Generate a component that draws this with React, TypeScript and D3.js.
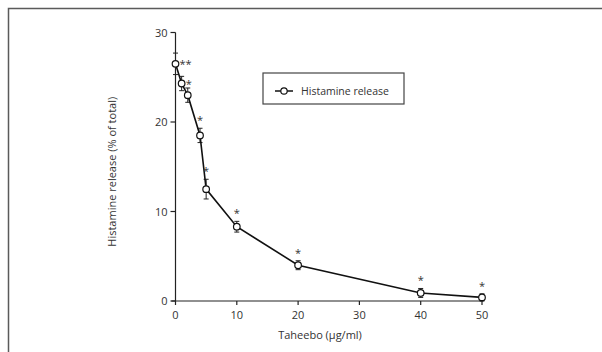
import React from "react";
import * as d3 from "d3";

const doses = [0, 1, 2, 4, 5, 10, 20, 40, 50];
const release = [26.5, 24.3, 23.0, 18.5, 12.5, 8.3, 4.0, 0.9, 0.4];
const errors = [1.2, 0.8, 0.8, 0.8, 1.1, 0.6, 0.5, 0.5, 0.4];
const stars = ["**", "*", "", "*", "*", "*", "*", "*", "*"];
const xTicks = [0, 10, 20, 30, 40, 50];
const yTicks = [0, 10, 20, 30];

export default function App() {
  const x = d3.scaleLinear().domain([0, 50]).range([175.5, 482]);
  const y = d3.scaleLinear().domain([0, 30]).range([301, 32.5]);
  const line = d3
    .line<number>()
    .x((_, i) => x(doses[i]))
    .y((d) => y(d));
  const font = "'Open Sans', 'DejaVu Sans', sans-serif";
  const tc = "#333";
  return (
    <svg
      width={602}
      height={352}
      style={{ position: "absolute", left: 0, top: 0, background: "#fff" }}
      fontFamily={font}
    >
      <rect x={8.5} y={8.5} width={600} height={350} fill="none" stroke="#5a5a5a" strokeWidth={1.5} />
      {/* axes */}
      <line x1={x(0)} x2={x(0)} y1={y(30)} y2={y(0)} stroke="#222" strokeWidth={1.2} />
      <line x1={x(0) - 4} x2={x(50) + 1} y1={y(0)} y2={y(0)} stroke="#222" strokeWidth={1.2} />
      {yTicks.map((t) => (
        <g key={"y" + t}>
          <line x1={x(0) - 5} x2={x(0)} y1={y(t)} y2={y(t)} stroke="#222" strokeWidth={1.2} />
          <text x={x(0) - 8} y={y(t) + 4} textAnchor="end" fontSize={11} fill={tc}>
            {t}
          </text>
        </g>
      ))}
      {xTicks.map((t) => (
        <g key={"x" + t}>
          <line x1={x(t)} x2={x(t)} y1={y(0)} y2={y(0) + 4} stroke="#222" strokeWidth={1.2} />
          <text x={x(t)} y={y(0) + 18} textAnchor="middle" fontSize={11} fill={tc}>
            {t}
          </text>
        </g>
      ))}
      <text
        transform={`translate(116,${(y(0) + y(30)) / 2 + 5}) rotate(-90)`}
        textAnchor="middle"
        fontSize={11}
        fill={tc}
      >
        Histamine release (% of total)
      </text>
      <text x={320} y={339} textAnchor="middle" fontSize={11} fill={tc}>
        Taheebo (μg/ml)
      </text>
      {/* error bars */}
      {doses.map((d, i) => (
        <g key={"e" + i} stroke="#222" strokeWidth={1}>
          <line x1={x(d)} x2={x(d)} y1={y(release[i] + errors[i])} y2={y(release[i] - errors[i])} />
          <line x1={x(d) - 2.5} x2={x(d) + 2.5} y1={y(release[i] + errors[i])} y2={y(release[i] + errors[i])} />
          <line x1={x(d) - 2.5} x2={x(d) + 2.5} y1={y(release[i] - errors[i])} y2={y(release[i] - errors[i])} />
        </g>
      ))}
      <path d={line(release) || ""} fill="none" stroke="#111" strokeWidth={1.6} />
      {doses.map((d, i) => (
        <circle key={"c" + i} cx={x(d)} cy={y(release[i])} r={3.3} fill="#fff" stroke="#111" strokeWidth={1.2} />
      ))}
      {doses.map((d, i) => {
        if (!stars[i]) return null;
        const side = i < 2;
        const tx = side ? x(d) + 4 : x(d);
        const ty = side ? y(release[i]) + 4 : y(release[i] + errors[i]) - 4;
        return (
          <text key={"s" + i} x={tx} y={ty} textAnchor={side ? "start" : "middle"} fontSize={11} fill="#333">
            {stars[i]}
          </text>
        );
      })}
      {/* legend */}
      <rect x={263} y={73} width={141} height={31} fill="#fff" stroke="#444" strokeWidth={1.2} />
      <line x1={275} x2={293} y1={91} y2={91} stroke="#111" strokeWidth={1.5} />
      <circle cx={284} cy={91} r={3.2} fill="#fff" stroke="#111" strokeWidth={1.2} />
      <text x={301} y={95} fontSize={10.5} fill={tc}>
        Histamine release
      </text>
    </svg>
  );
}
